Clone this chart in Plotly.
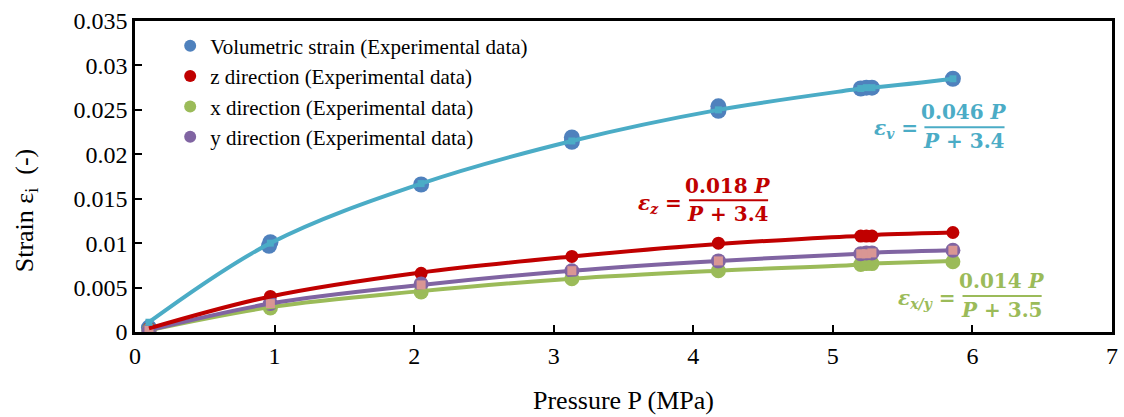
import plotly.graph_objects as go

# ---- Data ----
# Experimental data
P_vol = [0.10, 0.96, 0.97, 2.05, 3.13, 3.13, 4.18, 4.18, 5.20, 5.24, 5.28, 5.86]
eps_vol = [0.0005, 0.0097, 0.0101, 0.0166, 0.0214, 0.0219, 0.0249, 0.0254, 0.0274, 0.0275, 0.0275, 0.0285]

P_dir = [0.10, 0.97, 2.05, 3.13, 4.18, 5.20, 5.24, 5.28, 5.86]
eps_z = [0.0004, 0.0040, 0.0066, 0.0085, 0.0100, 0.0108, 0.0108, 0.0108, 0.0112]
eps_x = [0.0002, 0.0027, 0.0045, 0.0060, 0.0069, 0.0076, 0.0077, 0.0077, 0.0079]
eps_y = [0.0001, 0.0032, 0.0054, 0.0069, 0.0080, 0.0088, 0.0089, 0.0089, 0.0092]

# Model (fitted) curves evaluated at the test pressures
P_model = [0.10, 0.97, 2.05, 3.13, 4.18, 5.20, 5.24, 5.28, 5.86]
model_v = [0.0011, 0.0100, 0.0167, 0.0215, 0.0250, 0.0274, 0.0275, 0.0275, 0.0285]
model_z = [0.0004, 0.0040, 0.0067, 0.0085, 0.0099, 0.0108, 0.0108, 0.0109, 0.0112]
model_x = [0.0002, 0.0028, 0.0046, 0.0060, 0.0069, 0.0076, 0.0077, 0.0077, 0.0080]
model_y = [0.0002, 0.0032, 0.0053, 0.0069, 0.0080, 0.0088, 0.0088, 0.0089, 0.0092]

legend_names = [
    "Volumetric strain (Experimental data)",
    "z direction (Experimental data)",
    "x direction (Experimental data)",
    "y direction (Experimental data)",
]
x_title = "Pressure P (MPa)"
y_title = "Strain ε<sub>i</sub>\u00a0\u00a0(-)"

C_BLUE = "#4F81BD"
C_CYAN = "#4BACC6"
C_RED = "#C00000"
C_GREEN = "#9BBB59"
C_PURPLE = "#8064A2"
C_PINK = "#D99694"

SERIF = "Liberation Serif, Times New Roman, Tinos, serif"
EQ_FONT = "DejaVu Serif, serif"

fig = go.Figure()

# Experimental markers
fig.add_trace(go.Scatter(x=P_vol, y=eps_vol, mode="markers", name=legend_names[0],
                         marker=dict(symbol="circle", size=16, color=C_BLUE)))
fig.add_trace(go.Scatter(x=P_dir, y=eps_z, mode="markers", name=legend_names[1],
                         marker=dict(symbol="circle", size=13, color=C_RED)))
fig.add_trace(go.Scatter(x=P_dir, y=eps_x, mode="markers", name=legend_names[2],
                         marker=dict(symbol="circle", size=15, color=C_GREEN)))
fig.add_trace(go.Scatter(x=P_dir, y=eps_y, mode="markers", name=legend_names[3],
                         marker=dict(symbol="circle", size=15, color=C_PURPLE)))

# Model curves
fig.add_trace(go.Scatter(x=P_model, y=model_x, mode="lines", showlegend=False,
                         line=dict(color=C_GREEN, width=4, shape="spline")))
fig.add_trace(go.Scatter(x=P_model, y=model_y, mode="lines+markers", showlegend=False,
                         line=dict(color=C_PURPLE, width=4, shape="spline"),
                         marker=dict(symbol="square", size=9, color=C_PINK)))
fig.add_trace(go.Scatter(x=P_model, y=model_z, mode="lines", showlegend=False,
                         line=dict(color=C_RED, width=4, shape="spline")))
fig.add_trace(go.Scatter(x=P_model, y=model_v, mode="lines+markers", showlegend=False,
                         line=dict(color=C_CYAN, width=4, shape="spline"),
                         marker=dict(symbol="square", size=7, color=C_CYAN)))

# Equations
def add_eq(lhs, num, den, color, lx, ly, cx, ny, dy, lx0, lx1, liney):
    f = dict(family=EQ_FONT, size=20, color=color)
    fig.add_annotation(x=lx, y=ly, xref="paper", yref="paper", text=lhs, showarrow=False,
                       font=f, xanchor="right", yanchor="middle")
    fig.add_annotation(x=cx, y=ny, xref="paper", yref="paper", text=num, showarrow=False,
                       font=f, xanchor="center", yanchor="middle")
    fig.add_annotation(x=cx, y=dy, xref="paper", yref="paper", text=den, showarrow=False,
                       font=f, xanchor="center", yanchor="middle")
    fig.add_shape(type="line", xref="paper", yref="paper", x0=lx0, x1=lx1, y0=liney, y1=liney,
                  line=dict(color=color, width=2))

add_eq("<b><i>ε<sub>v</sub></i> =</b>", "<b>0.046 <i>P</i></b>", "<b><i>P</i> + 3.4</b>", C_CYAN,
       0.803, 0.652, 0.849, 0.709, 0.613, 0.808, 0.890, 0.658)
add_eq("<b><i>ε<sub>z</sub></i> =</b>", "<b>0.018 <i>P</i></b>", "<b><i>P</i> + 3.4</b>", C_RED,
       0.562, 0.411, 0.607, 0.469, 0.379, 0.567, 0.648, 0.424)
add_eq("<b><i>ε<sub>x/y</sub></i> =</b>", "<b>0.014 <i>P</i></b>", "<b><i>P</i> + 3.5</b>", C_GREEN,
       0.842, 0.106, 0.887, 0.164, 0.0706, 0.847, 0.928, 0.1156)

# Y axis title (placed like the reference, slightly below plot centre)
fig.add_annotation(x=-0.112, y=0.39, xref="paper", yref="paper", text=y_title, showarrow=False,
                   textangle=-90, xanchor="center", yanchor="middle",
                   font=dict(family=SERIF, size=26, color="black"))

axis_common = dict(
    showline=True, linecolor="black", linewidth=2.5, mirror=True,
    ticks="inside", ticklen=7, tickwidth=2, tickcolor="black",
    showgrid=False, zeroline=False,
    tickfont=dict(family=SERIF, size=24, color="black"),
)

fig.update_xaxes(range=[0, 7], dtick=1, tick0=0,
                 title=dict(text=x_title, font=dict(family=SERIF, size=26, color="black"), standoff=24),
                 **axis_common)
fig.update_yaxes(range=[0, 0.035], dtick=0.005, tick0=0, **axis_common)

fig.update_layout(
    width=1124, height=417,
    margin=dict(l=135, r=6, t=21, b=84),
    plot_bgcolor="white", paper_bgcolor="white",
    font=dict(family=SERIF, color="black"),
    legend=dict(x=0.036, y=0.985, xanchor="left", yanchor="top",
                bgcolor="rgba(0,0,0,0)", font=dict(family=SERIF, size=21, color="black"),
                itemsizing="constant"),
)

fig.write_html("out.html")
